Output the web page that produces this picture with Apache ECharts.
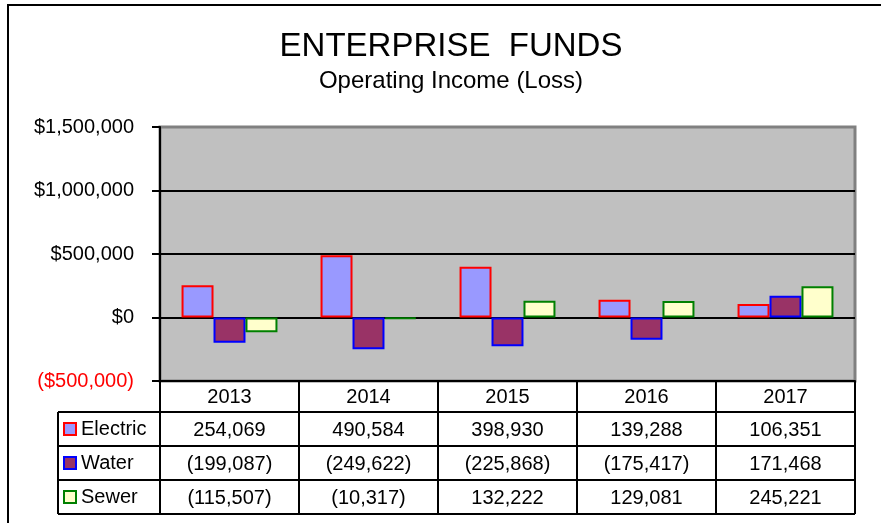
<!DOCTYPE html>
<html>
<head>
<meta charset="utf-8">
<script src="https://cdn.jsdelivr.net/npm/echarts@6/dist/echarts.min.js"></script>
<style>
  html, body { margin: 0; padding: 0; background: #fff; }
  #chart { width: 881px; height: 523px; }
</style>
</head>
<body>
<div id="chart"></div>
<script>
// data
var categories = ['2013', '2014', '2015', '2016', '2017']
var electric = [254069, 490584, 398930, 139288, 106351]
var water = [-199087, -249622, -225868, -175417, 171468]
var sewer = [-115507, -10317, 132222, 129081, 245221]
var seriesNames = ['Electric', 'Water', 'Sewer']
var yMin = -500000
var yMax = 1500000
var yStep = 500000

var FONT = '"Liberation Sans", Arial, sans-serif'
var fills = ['#9999ff', '#993366', '#ffffcc']
var borders = ['#ff0000', '#0000ff', '#008000']

function fmtTable (v) {
  var s = Math.abs(v).toLocaleString('en-US')
  return v < 0 ? '(' + s + ')' : s
}
function fmtAxis (v) {
  var s = '$' + Math.abs(v).toLocaleString('en-US')
  return v < 0 ? '(' + s + ')' : s
}

var dom = document.getElementById('chart')
var myChart = echarts.init(dom, null, { renderer: 'canvas' })

var allData = [electric, water, sewer]
var series = []
var legends = []
for (var i = 0; i < 3; i++) {
  series.push({
    name: seriesNames[i],
    type: 'bar',
    data: allData[i],
    barGap: '0%',
    barCategoryGap: '31%',
    itemStyle: { color: fills[i], borderColor: borders[i], borderWidth: 2 }
  })
  legends.push({
    data: [seriesNames[i]],
    left: 63,
    top: 419 + i * 34,
    padding: 0,
    itemWidth: 12,
    itemHeight: 12,
    icon: 'rect',
    selectedMode: false,
    textStyle: { fontFamily: FONT, fontSize: 20, color: '#000' }
  })
}

var option = {
  animation: false,
  backgroundColor: '#fff',
  title: {
    text: 'ENTERPRISE  FUNDS',
    subtext: 'Operating Income (Loss)',
    left: 446,
    textAlign: 'center',
    top: 25,
    itemGap: 6,
    textStyle: { fontFamily: FONT, fontSize: 33, fontWeight: 'normal', color: '#000' },
    subtextStyle: { fontFamily: FONT, fontSize: 24, color: '#000' }
  },
  legend: legends,
  grid: {
    left: 160,
    right: 26,
    top: 127,
    bottom: 142,
    show: true,
    backgroundColor: '#c0c0c0',
    borderColor: '#808080',
    borderWidth: 3
  },
  xAxis: {
    type: 'category',
    data: categories,
    axisLine: { onZero: false, lineStyle: { color: '#000', width: 2 } },
    axisTick: { show: false },
    axisLabel: { margin: 6, fontFamily: FONT, fontSize: 20, color: '#000' }
  },
  yAxis: {
    type: 'value',
    min: yMin,
    max: yMax,
    interval: yStep,
    axisLine: { show: true, lineStyle: { color: '#000', width: 2 } },
    axisTick: { show: true, length: 8, lineStyle: { color: '#000', width: 2 } },
    axisLabel: {
      margin: 26,
      fontFamily: FONT,
      fontSize: 20,
      formatter: fmtAxis,
      color: function (v) { return Number(v) < 0 ? '#ff0000' : '#000' }
    },
    splitLine: { show: true, showMaxLine: false, lineStyle: { color: '#000', width: 2 } }
  },
  series: series
}
myChart.setOption(option)

// 数据表
function drawTable () {
  var c0 = myChart.convertToPixel({ xAxisIndex: 0 }, categories[0])
  var c1 = myChart.convertToPixel({ xAxisIndex: 0 }, categories[1])
  var band = c1 - c0
  var xStart = c0 - band / 2
  var xEnd = xStart + band * categories.length
  var yTop = myChart.convertToPixel({ yAxisIndex: 0 }, yMin)
  var headH = 31
  var rowH = 34
  var legendLeft = 58
  var yRows = [yTop + headH]
  for (var r = 1; r <= 3; r++) yRows.push(yTop + headH + rowH * r)
  var yBottom = yRows[3]
  var els = []
  var line = function (x1, y1, x2, y2) {
    els.push({
      type: 'line',
      shape: { x1: x1, y1: y1, x2: x2, y2: y2 },
      style: { stroke: '#000', lineWidth: 2 },
      z: 100
    })
  }
  for (var k = 0; k < 4; k++) line(legendLeft, yRows[k], xEnd, yRows[k])
  line(legendLeft, yRows[0], legendLeft, yBottom)
  for (var j = 0; j <= categories.length; j++) {
    line(xStart + band * j, yTop, xStart + band * j, yBottom)
  }
  for (var s = 0; s < 3; s++) {
    for (var j2 = 0; j2 < categories.length; j2++) {
      els.push({
        type: 'text',
        x: xStart + band * (j2 + 0.5),
        y: yRows[s] + rowH / 2 + 1,
        style: {
          text: fmtTable(allData[s][j2]),
          font: '20px ' + FONT,
          fill: '#000',
          align: 'center',
          verticalAlign: 'middle'
        },
        z: 100
      })
    }
  }
  // 外框
  els.push({
    type: 'rect',
    shape: { x: 8, y: 5, width: 950, height: 600 },
    style: { fill: 'none', stroke: '#000', lineWidth: 2 },
    z: 100
  })
  myChart.setOption({ graphic: els })
}
drawTable()
</script>
</body>
</html>
